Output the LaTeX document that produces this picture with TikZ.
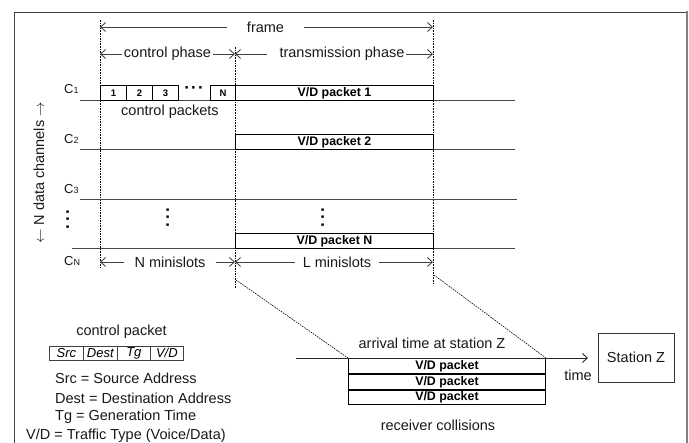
\documentclass[tikz,border=0pt]{standalone}
\usepackage{fontspec}
\setmainfont{Liberation Sans}
\usetikzlibrary{arrows.meta}
\begin{document}
\begin{tikzpicture}[x=1pt,y=-1pt,
  txt/.style={font=\fontsize{14.5}{16}\selectfont, inner sep=0pt, text=black!90},
  clab/.style={font=\fontsize{13}{14}\selectfont, inner sep=0pt, anchor=base west, text=black!90},
  pkt/.style={draw=black, line width=0.9pt, font=\bfseries\fontsize{12.4}{14}\selectfont, inner sep=0pt, minimum height=15pt},
  cbox/.style={draw=black, line width=0.9pt, font=\bfseries\fontsize{9.5}{10}\selectfont, inner sep=0pt, minimum height=15pt, minimum width=26pt, anchor=south west},
  fld/.style={draw=black!75, line width=0.7pt, font=\itshape\fontsize{13}{14}\selectfont, inner sep=0pt, minimum height=14pt, anchor=north west},
  chan/.style={draw=black!72, line width=1pt},
  vdot/.style={draw=black, line width=0.7pt, dash pattern=on 1.6pt off 1pt},
  dim/.style={draw=black!75, line width=0.85pt, -{Straight Barb[length=5pt,width=9pt]}},
  vdots/.style={font=\bfseries\fontsize{17}{18}\selectfont, inner sep=0pt},
]
\useasboundingbox (0,0) rectangle (689,443);
\fill[white] (0,0) rectangle (689,443);
\begin{scope}
\clip (0,0) rectangle (689,443);
\draw[black!75, line width=0.9pt] (14,450) -- (14,12) -- (687,12);
\draw[black!50, line width=2.5pt] (687,11) -- (687,450);
\end{scope}

% vertical dotted lines
\coordinate (LT) at (100,20);  \coordinate (LB) at (100,268);
\coordinate (MT) at (235,47);  \coordinate (MB) at (235,288);
\coordinate (RT) at (433,20);  \coordinate (RB) at (433,285);
\draw[vdot] (LT) -- (LB);
\draw[vdot] (MT) -- (MB);
\draw[vdot] (RT) -- (RB);

% frame
\node[txt, inner xsep=20pt] (frame) at (265.5,27) {frame};
\coordinate (fL) at (100,27); \coordinate (fR) at (433,27);
\draw[dim] (frame.west) -- (fL);
\draw[dim] (frame.east) -- (fR);

% phases
\node[txt, inner xsep=1.5pt] (cph) at (167.5,54) {control phase};
\coordinate (cL) at (100,54); \coordinate (cR) at (235,54);
\draw[dim] (cph.west) -- (cL);
\draw[dim] (cph.east) -- (cR);
\node[txt, inner xsep=1.5pt] (tph) at (342,54) {transmission phase};
\coordinate (tL) at (235,54); \coordinate (tR) at (433,54);
\draw[dim] ([xshift=-11pt]tph.west) -- (tL);
\draw[dim] (tph.east) -- (tR);

% channel lines
\coordinate (c1a) at (80,101);  \coordinate (c1b) at (515,101);
\coordinate (c2a) at (80,150);  \coordinate (c2b) at (515,150);
\coordinate (c3a) at (80,200);  \coordinate (c3b) at (517,200);
\coordinate (cNa) at (72,249);  \coordinate (cNb) at (515,249);
\draw[chan] (c1a) -- (c1b);
\draw[chan] (c2a) -- (c2b);
\draw[chan] (c3a) -- (c3b);
\draw[chan] (cNa) -- (cNb);

% channel labels
\node[clab] (C1) at (64,94) {C{\fontsize{9}{9}\selectfont 1}};
\node[clab] (C2) at (64,144) {C{\fontsize{9}{9}\selectfont 2}};
\node[clab] (C3) at (64,194) {C{\fontsize{9}{9}\selectfont 3}};
\node[clab] (CN) at (64,266) {C{\fontsize{9}{9}\selectfont N}};

% control packets
\node[cbox] (k1) at (100,101) {1};
\node[cbox] (k2) at (126,101) {2};
\node[cbox] (k3) at (152,101) {3};
\node[vdots] (kd) at (194,90) {·\hspace{1.2pt}·\hspace{1.2pt}·};
\node[cbox, minimum width=25pt] (kN) at (210,101) {N};
\node[txt] (cpk) at (170,112) {control packets};

% V/D packets
\node[pkt, minimum width=198pt, anchor=south west] (p1) at (235,101) {V/D packet 1};
\node[pkt, minimum width=198pt, anchor=south west] (p2) at (235,150) {V/D packet 2};
\node[pkt, minimum width=198pt, anchor=south west] (pN) at (235,249) {V/D packet N};

% vertical ellipses
\node[vdots, rotate=90] (e1) at (70,219) {·\hspace{1.6pt}·\hspace{1.6pt}·};
\node[vdots, rotate=90] (e2) at (170,217) {·\hspace{1.6pt}·\hspace{1.6pt}·};
\node[vdots, rotate=90] (e3) at (325,217) {·\hspace{1.6pt}·\hspace{1.6pt}·};

% left rotated label
\node[txt, rotate=90] (ndc) at (39,173) {$\leftarrow$ N data channels $\rightarrow$};

% minislots
\node[txt, inner xsep=10pt] (nms) at (170,262) {N minislots};
\coordinate (nL) at (100,262); \coordinate (nR) at (235,262);
\draw[dim] (nms.west) -- (nL);
\draw[dim] (nms.east) -- (nR);
\node[txt, inner xsep=8pt] (lms) at (337,262) {L minislots};
\coordinate (lL) at (235,262); \coordinate (lR) at (433,262);
\draw[dim] (lms.west) -- (lL);
\draw[dim] (lms.east) -- (lR);

% receiver packets
\node[pkt, minimum width=197pt, minimum height=15pt, anchor=north west] (r1) at (348,358) {V/D packet};
\node[pkt, minimum width=197pt, minimum height=15pt, anchor=north] (r2) at (r1.south) {V/D packet};
\node[pkt, minimum width=197pt, minimum height=14pt, anchor=north] (r3) at (r2.south) {V/D packet};

% diagonals
\coordinate (dA) at (236,280);
\coordinate (dB) at (434,275);
\draw[vdot, line width=0.6pt] (dA) -- (r1.north west);
\draw[vdot, line width=0.6pt] (dB) -- (r1.north east);

% time axis
\coordinate (ta) at (296,358);
\coordinate (tb) at (588,358);
\draw[dim, draw=black!85] (ta) -- (tb);
\node[txt] (arr) at (432,343) {arrival time at station Z};
\node[txt] (time) at (578,375) {time};
\node[txt, draw=black!80, line width=0.9pt, minimum width=76pt, minimum height=49pt] (st) at (636,357.5) {Station Z};
\node[txt] (rc) at (438,425) {receiver collisions};

% control packet format
\node[txt] (cpt) at (121.5,332) {control packet};
\node[fld, minimum width=34pt] (fs) at (49,346) {Src};
\node[fld, minimum width=34pt] (fd) at (83,346) {Dest};
\node[fld, minimum width=33pt] (ft) at (117,346) {Tg};
\node[fld, minimum width=33pt] (fv) at (150,346) {V/D};

\node[txt, anchor=west] (l1) at (55,378) {Src = Source Address};
\node[txt, anchor=west] (l2) at (55,398) {Dest = Destination Address};
\node[txt, anchor=west] (l3) at (55,417) {Tg = Generation Time};
\node[txt, anchor=west] (l4) at (26,436) {V/D = Traffic Type (Voice/Data)};
\end{tikzpicture}
\end{document}
